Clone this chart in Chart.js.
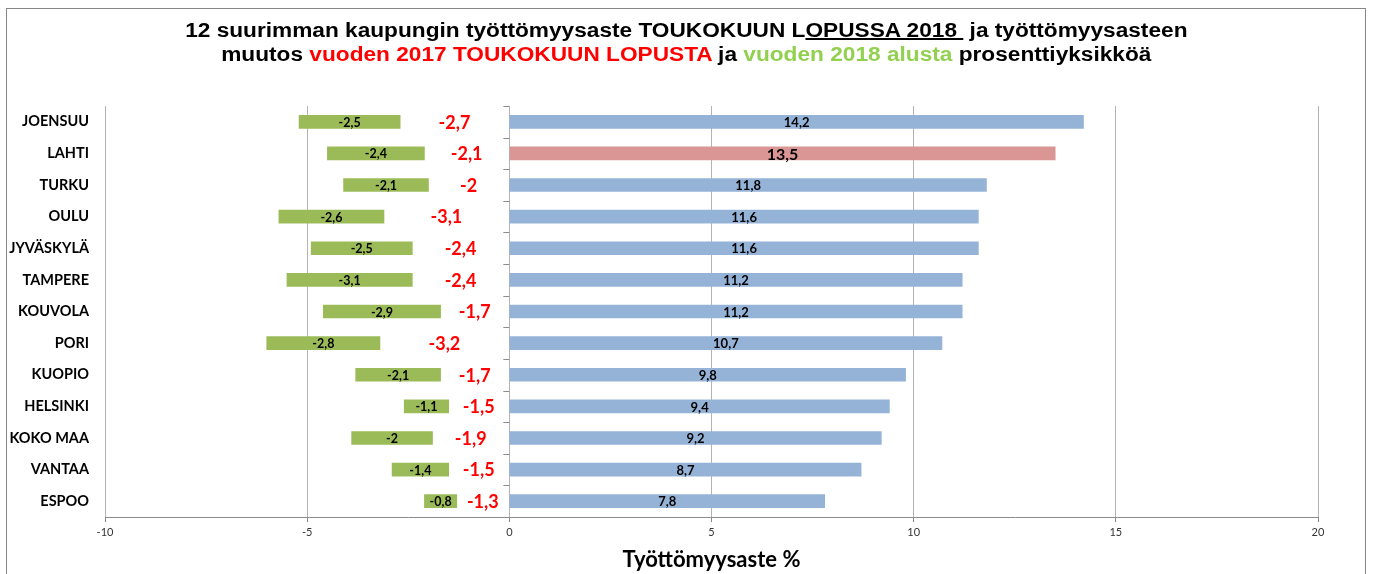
<!DOCTYPE html>
<html lang="fi">
<head>
<meta charset="utf-8">
<title>Työttömyysaste toukokuu 2018</title>
<script src="https://cdn.jsdelivr.net/npm/chart.js@4/dist/chart.umd.min.js"></script>
<style>
    body { margin: 0; background: #fff; }
    #alue { position: relative; width: 1373px; height: 574px; overflow: hidden; }
    #kehys { position: absolute; left: 6px; top: 8px; width: 1358px; height: 600px; border: 1px solid #878787; }
    #otsikko {
        position: absolute; left: 0; top: 18px; width: 1373px;
        text-align: center; white-space: pre;
        font: bold 20px "Liberation Sans", Arial, sans-serif; line-height: 24px; color: #000;
        transform: scaleX(1.133); transform-origin: 688px 0;
    }
    #otsikko .punainen { color: #ff0000; }
    #otsikko .vihrea { color: #92d050; }
    canvas { position: absolute; left: 0; top: 0; }
</style>
</head>
<body>
<div id="alue">
    <div id="kehys"></div>
    <canvas id="kaavio" width="1373" height="574"></canvas>
    <div id="otsikko">12 suurimman kaupungin työttömyysaste TOUKOKUUN L<u>OPUSSA 2018 </u> ja työttömyysasteen
muutos <span class="punainen">vuoden 2017 TOUKOKUUN LOPUSTA</span> ja <span class="vihrea">vuoden 2018 alusta</span> prosenttiyksikköä</div>
</div>
<script>
const kaupungit = ["JOENSUU", "LAHTI", "TURKU", "OULU", "JYVÄSKYLÄ", "TAMPERE", "KOUVOLA", "PORI", "KUOPIO", "HELSINKI", "KOKO MAA", "VANTAA", "ESPOO"];
const tyottomyysaste = [14.2, 13.5, 11.8, 11.6, 11.6, 11.2, 11.2, 10.7, 9.8, 9.4, 9.2, 8.7, 7.8];
const muutosVuodesta2017 = [-2.7, -2.1, -2, -3.1, -2.4, -2.4, -1.7, -3.2, -1.7, -1.5, -1.9, -1.5, -1.3];
const muutosVuodenAlusta = [-2.5, -2.4, -2.1, -2.6, -2.5, -3.1, -2.9, -2.8, -2.1, -1.1, -2, -1.4, -0.8];
const akselinArvot = [-10, -5, 0, 5, 10, 15, 20];
const korostettu = "LAHTI";

document.addEventListener("DOMContentLoaded", function () {
    const fontti = "Lato, 'Open Sans', sans-serif";
    const luku = (v) => String(v).replace(".", ",");

    // arvot palkkien keskelle + pienet jakoviivat nollakohtaan
    const tekstit = {
        id: "tekstit",
        afterDatasetsDraw(chart) {
            const ctx = chart.ctx;
            ctx.save();
            ctx.textAlign = "center";
            ctx.textBaseline = "middle";
            chart.data.datasets.forEach((ds, i) => {
                const meta = chart.getDatasetMeta(i);
                meta.data.forEach((palkki, j) => {
                    const x = (palkki.x + palkki.base) / 2;
                    let koko = ds.tekstiKoko;
                    if (i === 0 && kaupungit[j] === korostettu) koko = 16;
                    ctx.font = "bold " + koko + "px " + fontti;
                    ctx.fillStyle = ds.tekstiVari;
                    ctx.fillText(luku(ds.data[j]), x, palkki.y + 1);
                });
            });

            const y = chart.scales.y;
            const x0 = chart.scales.x.getPixelForValue(0);
            ctx.strokeStyle = "#8c8c8c";
            ctx.lineWidth = 1;
            ctx.beginPath();
            for (let k = 0; k <= kaupungit.length; k++) {
                const py = Math.round(y.getPixelForValue(k - 0.5)) + 0.5;
                ctx.moveTo(x0 - 6, py);
                ctx.lineTo(x0, py);
            }
            ctx.stroke();
            ctx.restore();
        }
    };

    new Chart(document.getElementById("kaavio"), {
        type: "bar",
        data: {
            labels: kaupungit,
            datasets: [{
                label: "Työttömyysaste",
                data: tyottomyysaste,
                backgroundColor: kaupungit.map(k => k === korostettu ? "#d99694" : "#95b3d7"),
                barThickness: 13,
                tekstiKoko: 13,
                tekstiVari: "#000"
            }, {
                label: "Muutos vuoden 2017 toukokuun lopusta",
                data: muutosVuodesta2017,
                backgroundColor: "rgba(0,0,0,0)",
                barThickness: 13,
                tekstiKoko: 18,
                tekstiVari: "#ff0000"
            }, {
                label: "Muutos vuoden 2018 alusta",
                data: muutosVuodenAlusta,
                backgroundColor: "#9bbb59",
                barThickness: 13,
                tekstiKoko: 12.5,
                tekstiVari: "#000"
            }]
        },
        options: {
            indexAxis: "y",
            responsive: false,
            animation: false,
            layout: { padding: { top: 106, right: 55, left: 0, bottom: 0 } },
            plugins: {
                legend: { display: false },
                tooltip: { enabled: false }
            },
            scales: {
                x: {
                    stacked: true,
                    min: akselinArvot[0],
                    max: akselinArvot[akselinArvot.length - 1],
                    afterBuildTicks: (akseli) => { akseli.ticks = akselinArvot.map(v => ({ value: v })); },
                    grid: { color: "#b3b3b3", tickLength: 5, tickColor: "#8c8c8c" },
                    border: { color: "#8c8c8c" },
                    ticks: { color: "#333", padding: 4, font: { family: fontti, size: 11 } },
                    title: {
                        display: true,
                        text: "Työttömyysaste %",
                        color: "#000",
                        font: { family: fontti, size: 22, weight: "bold" },
                        padding: { top: 0, bottom: 1 }
                    },
                    afterFit: (akseli) => { akseli.height = 57; }
                },
                y: {
                    stacked: true,
                    grid: { display: false, drawTicks: false },
                    border: { display: false },
                    ticks: { color: "#000", padding: 16, font: { family: fontti, size: 14.5, weight: "bold" } },
                    afterFit: (akseli) => { akseli.width = 105; }
                }
            }
        },
        plugins: [tekstit]
    });
});
</script>
</body>
</html>
